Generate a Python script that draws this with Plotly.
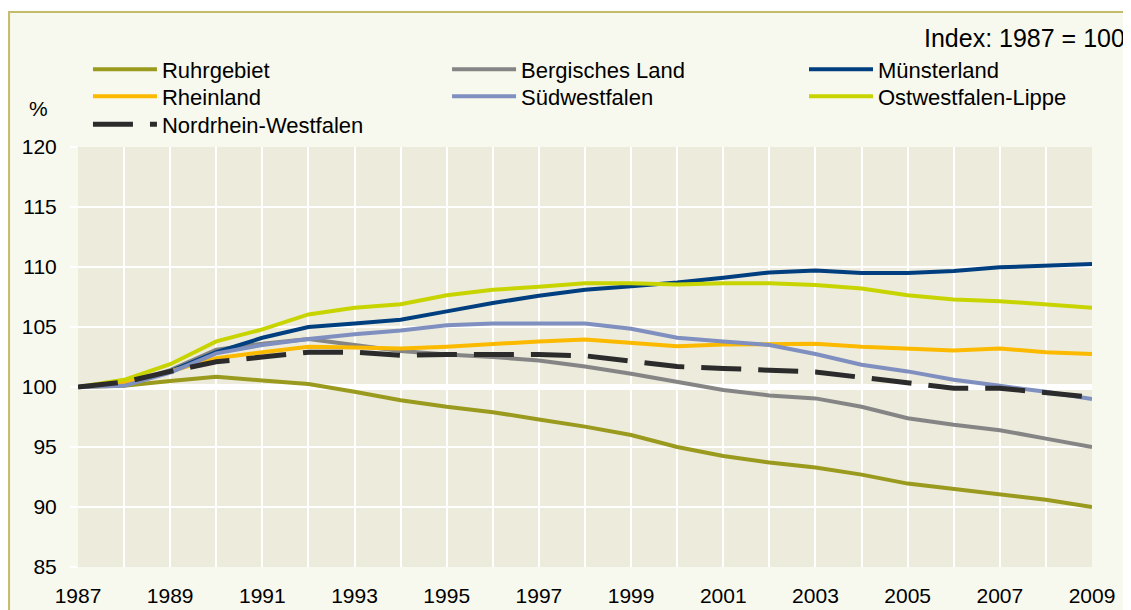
import plotly.graph_objects as go

years = list(range(1987, 2010))
x_tick_text = [str(y) if (y - 1987) % 2 == 0 else "" for y in years]
y_ticks = [85, 90, 95, 100, 105, 110, 115, 120]

ruhrgebiet = [100.0, 100.1, 100.5, 100.85, 100.55, 100.25, 99.6, 98.9, 98.35, 97.9, 97.3, 96.7,
              96.0, 95.0, 94.25, 93.7, 93.3, 92.7, 91.95, 91.5, 91.1, 90.6, 90.0]
bergisches_land = [100.0, 100.2, 101.4, 103.1, 103.6, 104.0, 103.5, 103.0, 102.7, 102.5, 102.2, 101.7,
                   101.1, 100.4, 99.75, 99.3, 99.05, 98.35, 97.4, 96.85, 96.4, 95.7, 95.0]
muensterland = [100.0, 100.3, 101.3, 102.9, 104.1, 105.0, 105.3, 105.6, 106.3, 107.0, 107.6, 108.1,
                108.4, 108.7, 109.1, 109.55, 109.7, 109.5, 109.5, 109.67, 109.97, 110.1, 110.25]
rheinland = [100.0, 100.4, 101.3, 102.4, 102.9, 103.35, 103.3, 103.2, 103.35, 103.6, 103.8, 103.95,
             103.65, 103.4, 103.55, 103.6, 103.6, 103.35, 103.2, 103.05, 103.2, 102.9, 102.75]
suedwestfalen = [100.0, 100.1, 101.2, 102.8, 103.5, 104.0, 104.4, 104.7, 105.15, 105.3, 105.3, 105.3,
                 104.85, 104.1, 103.8, 103.5, 102.75, 101.85, 101.3, 100.6, 100.1, 99.6, 99.0]
ostwestfalen_lippe = [100.0, 100.6, 101.9, 103.8, 104.8, 106.05, 106.6, 106.9, 107.65, 108.1, 108.35, 108.65,
                      108.65, 108.55, 108.65, 108.65, 108.5, 108.2, 107.65, 107.3, 107.15, 106.9, 106.6]
nrw = [100.0, 100.4, 101.3, 102.1, 102.5, 102.9, 102.9, 102.65, 102.7, 102.75, 102.7, 102.6,
       102.15, 101.7, 101.55, 101.4, 101.25, 100.8, 100.3, 99.9, 99.9, 99.5, 99.15]

FONT = "Liberation Sans, Arial, sans-serif"

# name, values, colour, dash, legend column, legend row
series = [
    ("Ruhrgebiet", ruhrgebiet, "#9A9A1E", None, 0, 0),
    ("Bergisches Land", bergisches_land, "#858585", None, 1, 0),
    ("Münsterland", muensterland, "#003F7F", None, 2, 0),
    ("Rheinland", rheinland, "#FBBA00", None, 0, 1),
    ("Südwestfalen", suedwestfalen, "#7F8FBF", None, 1, 1),
    ("Ostwestfalen-Lippe", ostwestfalen_lippe, "#C8D400", None, 2, 1),
    ("Nordrhein-Westfalen", nrw, "#2B2B2B", "40px,17px", 0, 2),
]

legend_cols = [0.0707, 0.3882, 0.7038]
legend_rows = [0.9336, 0.8893, 0.8434]

fig = go.Figure()
legends = {}
for i, (name, vals, color, dash, col, row) in enumerate(series):
    key = "legend" if i == 0 else f"legend{i + 1}"
    fig.add_trace(go.Scatter(
        x=years, y=vals, name=name, mode="lines",
        line=dict(color=color, width=5 if dash else 4, dash=dash or "solid"),
        legend=key,
    ))
    legends[key] = dict(x=legend_cols[col], y=legend_rows[row], orientation="v",
                        bgcolor="rgba(0,0,0,0)", font=dict(family=FONT, size=22, color="black"),
                        xref="container", yref="container", xanchor="left", yanchor="top",
                        itemclick=False, itemwidth=64)

# thick white line at index 100
fig.add_shape(type="line", xref="x", yref="y", x0=1987, x1=2009, y0=100, y1=100,
              line=dict(color="white", width=6), layer="below")

# outer frame
fig.add_shape(type="rect", xref="paper", yref="paper", x0=-0.068, x1=1.2, y0=-0.3, y1=1.3214,
              line=dict(color="#C5BC6B", width=2), fillcolor="rgba(0,0,0,0)", layer="below")
fig.add_shape(type="rect", xref="paper", yref="paper", x0=-0.2, x1=1.2, y0=1.3245, y1=1.6,
              line=dict(width=0), fillcolor="white", layer="below")

fig.update_layout(
    width=1131, height=610,
    margin=dict(l=70, r=47, t=139, b=51, autoexpand=False),
    paper_bgcolor="#F8F9EE",
    plot_bgcolor="#EDEBDC",
    font=dict(family=FONT, size=21, color="black"),
    showlegend=True,
    xaxis=dict(range=[1987, 2009], tickvals=years, ticktext=x_tick_text, showgrid=True,
               gridcolor="white", gridwidth=2, zeroline=False, showline=False, ticks="",
               tickfont=dict(family=FONT, size=21, color="black"), ticklabelstandoff=14),
    yaxis=dict(range=[85, 120], tickvals=y_ticks, showgrid=True, gridcolor="white", gridwidth=2,
               zeroline=False, showline=False, ticks="outside", ticklen=7, tickcolor="white",
               tickwidth=2, tickfont=dict(family=FONT, size=21, color="black"), ticklabelstandoff=9),
    annotations=[
        dict(text="%", xref="paper", yref="paper", x=(30 - 70) / 1014, y=(559 - 100) / 420,
             showarrow=False, xanchor="center", yanchor="middle",
             font=dict(family=FONT, size=21, color="black")),
        dict(text="Index: 1987 = 100", xref="paper", yref="paper", x=(1119 - 70) / 1014,
             y=(559 - 30) / 420, showarrow=False, xanchor="right", yanchor="middle",
             font=dict(family=FONT, size=25, color="black")),
    ],
)
fig.update_layout(**legends)

fig.write_html("out.html")
